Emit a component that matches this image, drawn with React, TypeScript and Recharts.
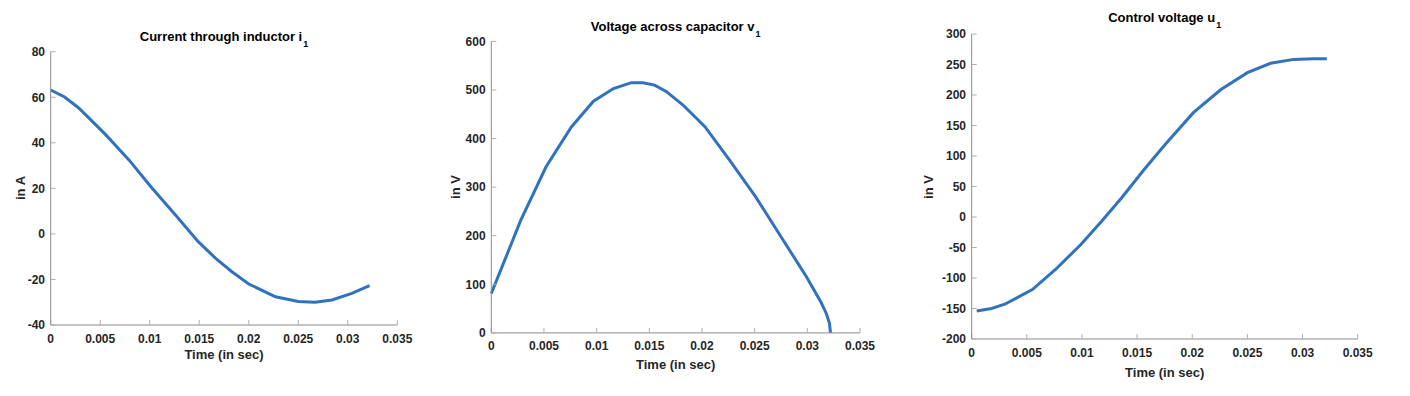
import React from 'react'
import { LineChart, Line, XAxis, YAxis } from 'recharts'

const timeTicks = [0, 0.005, 0.01, 0.015, 0.02, 0.025, 0.03, 0.035]

const currentTime = [0, 0.0014, 0.0028, 0.0055, 0.0079, 0.0102, 0.0126, 0.0149, 0.0166, 0.0183, 0.02, 0.0227, 0.025, 0.0267, 0.0284, 0.0304, 0.0322]
const currentValues = [63.2, 60.1, 55.4, 43.8, 32.5, 20.3, 8.3, -3.4, -10.5, -16.6, -22.0, -27.6, -29.7, -30.0, -29.0, -26.1, -22.7]
const currentTicks = [-40, -20, 0, 20, 40, 60, 80]

const voltageTime = [0, 0.0028, 0.0052, 0.0076, 0.0097, 0.0116, 0.0133, 0.0144, 0.0155, 0.0166, 0.0182, 0.0203, 0.0226, 0.0251, 0.0275, 0.0299, 0.0313, 0.0318, 0.0321, 0.0322]
const voltageValues = [81, 232, 342, 424, 477, 503, 515, 515, 510, 497, 469, 424, 356, 280, 198, 116, 63, 40, 20, 0]
const voltageTicks = [0, 100, 200, 300, 400, 500, 600]

const controlTime = [0.00045, 0.0018, 0.003, 0.0055, 0.0076, 0.0099, 0.0118, 0.0136, 0.0156, 0.0175, 0.0201, 0.0226, 0.025, 0.0271, 0.0292, 0.031, 0.0322]
const controlValues = [-154, -150, -143, -119, -86, -45, -6.6, 31.6, 77, 118, 171, 209, 236.6, 252, 258.4, 259.5, 259.5]
const controlTicks = [-200, -150, -100, -50, 0, 50, 100, 150, 200, 250, 300]

const FONT = '"Liberation Sans", Arial, Helvetica, sans-serif'
const TEXT = '#262626'
const LINE = '#3072BD'

type PanelProps = {
  time: number[]
  values: number[]
  yTicks: number[]
  title: string
  sub: string
  yLabel: string
  // plot box in page pixels
  plotLeft: number
  plotRight: number
  plotTop: number
  plotBottom: number
  panelLeft: number
  panelWidth: number
  titleBaseline: number
  yLabelX: number
  xLabelY: number
}

function Panel(p: PanelProps) {
  const data = p.time.map((t, i) => ({ t, v: p.values[i] }))
  const height = 396
  const yAxisWidth = p.plotLeft - p.panelLeft
  const centerX = (p.plotLeft + p.plotRight) / 2
  const centerY = (p.plotTop + p.plotBottom) / 2
  const tickStyle = { fill: TEXT, fontSize: 12, fontWeight: 'bold', fontFamily: FONT }
  return (
    <>
      <div style={{ position: 'absolute', left: p.panelLeft, top: 0 }}>
        <LineChart
          width={p.panelWidth}
          height={height}
          data={data}
          margin={{ top: p.plotTop, right: p.panelLeft + p.panelWidth - p.plotRight, bottom: 0, left: 0 }}
        >
          <XAxis
            dataKey="t"
            type="number"
            domain={[0, 0.035]}
            ticks={timeTicks}
            interval={0}
            height={height - p.plotBottom}
            axisLine={{ stroke: '#8a8a8a' }}
            tickLine={{ stroke: '#b0b0b0' }}
            tickSize={-5}
            tickMargin={14}
            tick={tickStyle}
          />
          <YAxis
            type="number"
            domain={[p.yTicks[0], p.yTicks[p.yTicks.length - 1]]}
            ticks={p.yTicks}
            interval={0}
            width={yAxisWidth}
            axisLine={{ stroke: '#8a8a8a' }}
            tickLine={{ stroke: '#b0b0b0' }}
            tickSize={-5}
            tickMargin={10.7}
            tick={tickStyle}
          />
          <Line
            dataKey="v"
            type="linear"
            stroke={LINE}
            strokeWidth={3}
            dot={false}
            isAnimationActive={false}
          />
        </LineChart>
      </div>
      <div
        style={{
          position: 'absolute',
          left: centerX,
          top: p.titleBaseline - 11,
          transform: 'translateX(-50%)',
          whiteSpace: 'nowrap',
          font: `bold 13px ${FONT}`,
          lineHeight: '13px',
          color: '#000',
        }}
      >
        {p.title}
        <span style={{ fontSize: 9, position: 'relative', top: 6, marginLeft: 1 }}>{p.sub}</span>
      </div>
      <div
        style={{
          position: 'absolute',
          left: p.yLabelX,
          top: centerY,
          transform: 'translate(-50%, -50%) rotate(-90deg)',
          whiteSpace: 'nowrap',
          font: `bold 13px ${FONT}`,
          lineHeight: '13px',
          color: TEXT,
        }}
      >
        {p.yLabel}
      </div>
      <div
        style={{
          position: 'absolute',
          left: centerX,
          top: p.xLabelY,
          transform: 'translate(-50%, -50%)',
          whiteSpace: 'nowrap',
          font: `bold 13px ${FONT}`,
          lineHeight: '13px',
          color: TEXT,
        }}
      >
        Time (in sec)
      </div>
    </>
  )
}

export default function App() {
  return (
    <div style={{ position: 'absolute', left: 0, top: 0, width: 1410, height: 396, background: '#fff' }}>
      <Panel
        time={currentTime}
        values={currentValues}
        yTicks={currentTicks}
        title="Current through inductor i"
        sub="1"
        yLabel="in A"
        plotLeft={50.7}
        plotRight={397.3}
        plotTop={51.7}
        plotBottom={325}
        panelLeft={0}
        panelWidth={420}
        titleBaseline={41}
        yLabelX={19.5}
        xLabelY={354}
      />
      <Panel
        time={voltageTime}
        values={voltageValues}
        yTicks={voltageTicks}
        title="Voltage across capacitor v"
        sub="1"
        yLabel="in V"
        plotLeft={491.3}
        plotRight={860}
        plotTop={41.4}
        plotBottom={332.9}
        panelLeft={430}
        panelWidth={450}
        titleBaseline={30.5}
        yLabelX={454.8}
        xLabelY={364}
      />
      <Panel
        time={controlTime}
        values={controlValues}
        yTicks={controlTicks}
        title="Control voltage u"
        sub="1"
        yLabel="in V"
        plotLeft={971.7}
        plotRight={1357.7}
        plotTop={34}
        plotBottom={339}
        panelLeft={900}
        panelWidth={480}
        titleBaseline={22}
        yLabelX={927.5}
        xLabelY={371.5}
      />
    </div>
  )
}
